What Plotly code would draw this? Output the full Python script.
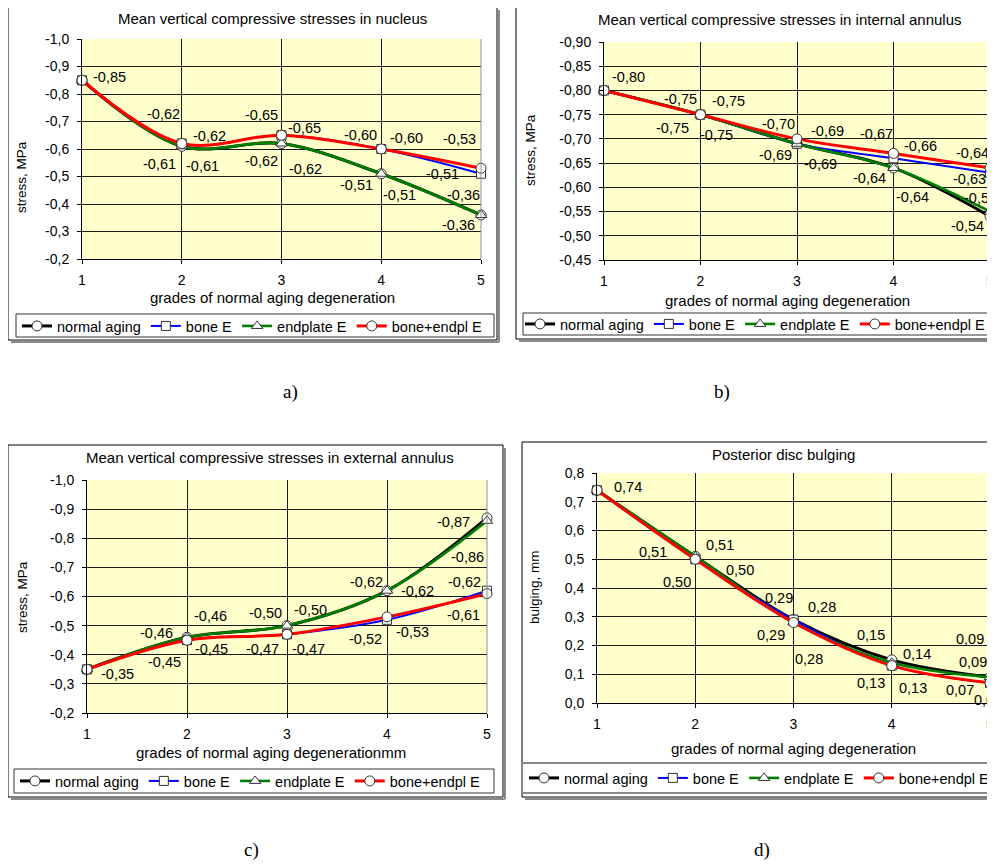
import plotly.graph_objects as go

# ---------------- data ----------------
grades = [1, 2, 3, 4, 5]
grade_labels = ["1", "2", "3", "4", "5"]
series_names = ["normal aging", "bone E", "endplate E", "bone+endpl E"]

# a) nucleus
nucleus_normal = [-0.85, -0.61, -0.62, -0.51, -0.36]
nucleus_bone = [-0.85, -0.62, -0.65, -0.60, -0.51]
nucleus_endplate = [-0.85, -0.61, -0.62, -0.51, -0.36]
nucleus_both = [-0.85, -0.62, -0.65, -0.60, -0.53]

# b) internal annulus
inner_normal = [-0.80, -0.75, -0.69, -0.64, -0.54]
inner_bone = [-0.80, -0.75, -0.69, -0.66, -0.63]
inner_endplate = [-0.80, -0.75, -0.69, -0.64, -0.55]
inner_both = [-0.80, -0.75, -0.70, -0.67, -0.64]

# c) external annulus
outer_normal = [-0.35, -0.46, -0.50, -0.62, -0.87]
outer_bone = [-0.35, -0.45, -0.47, -0.52, -0.62]
outer_endplate = [-0.35, -0.46, -0.50, -0.62, -0.86]
outer_both = [-0.35, -0.45, -0.47, -0.53, -0.61]

# d) posterior bulging
bulge_normal = [0.74, 0.51, 0.29, 0.15, 0.09]
bulge_bone = [0.74, 0.50, 0.29, 0.13, 0.07]
bulge_endplate = [0.74, 0.51, 0.28, 0.14, 0.09]
bulge_both = [0.74, 0.50, 0.28, 0.13, 0.07]

ticks_stress = [-1.0, -0.9, -0.8, -0.7, -0.6, -0.5, -0.4, -0.3, -0.2]
ticks_inner = [-0.90, -0.85, -0.80, -0.75, -0.70, -0.65, -0.60, -0.55, -0.50, -0.45]
ticks_bulge = [0.0, 0.1, 0.2, 0.3, 0.4, 0.5, 0.6, 0.7, 0.8]

titles = ["Mean vertical compressive stresses in nucleus",
          "Mean vertical compressive stresses in internal annulus",
          "Mean vertical compressive stresses in external annulus",
          "Posterior disc bulging"]
x_titles = ["grades of normal aging degeneration",
            "grades of normal aging degeneration",
            "grades of normal aging degenerationmm",
            "grades of normal aging degeneration"]
y_titles = ["stress, MPa", "stress, MPa", "stress, MPa", "bulging, mm"]
panel_letters = ["a)", "b)", "c)", "d)"]

# ---------------- styles / layout ----------------
PAGE_W, PAGE_H = 995, 864
OFF = 8                      # default body margin of the html page
W, H = PAGE_W - OFF, PAGE_H - OFF
FONT = "Liberation Sans"


def px(x):
    return (x - OFF) / W


def py(y):
    return 1 - (y - OFF) / H


def fmt(v, nd):
    return f"{v:.{nd}f}".replace(".", ",")


colors = ["#000000", "#0000FF", "#008000", "#FF0000"]
widths = [3, 2, 2.6, 3]
symbols = ["circle", "square", "triangle-up", "circle"]
msizes = [10, 9, 10, 10]

panels = [
    dict(data=[nucleus_normal, nucleus_bone, nucleus_endplate, nucleus_both],
         ticks=ticks_stress, nd=1, rng=[-0.2, -1.0],
         plot=(82, 481, 39, 259), frame=(8, 497, 7, 340),
         title=(272, 19), xt=(272, 298), yt=(22, 177),
         legend=(17, 326), lbox=(16, 494, 314, 337), letter=(290, 392)),
    dict(data=[inner_normal, inner_bone, inner_endplate, inner_both],
         ticks=ticks_inner, nd=2, rng=[-0.45, -0.90],
         plot=(604, 990, 42, 260), frame=(516, 1000, 7, 339),
         title=(780, 20), xt=(787, 300), yt=(530, 150),
         legend=(520, 324), lbox=(523, 1000, 313, 335), letter=(722, 392)),
    dict(data=[outer_normal, outer_bone, outer_endplate, outer_both],
         ticks=ticks_stress, nd=1, rng=[-0.2, -1.0],
         plot=(87, 487, 480, 713), frame=(8, 503, 445, 797),
         title=(270, 457), xt=(271, 752), yt=(22, 597),
         legend=(15, 781), lbox=(14, 494, 769, 793), letter=(251, 850)),
    dict(data=[bulge_normal, bulge_bone, bulge_endplate, bulge_both],
         ticks=ticks_bulge, nd=1, rng=[0.0, 0.8],
         plot=(597, 990, 473, 703), frame=(522, 1000, 442, 797),
         title=(783, 454), xt=(793, 748), yt=(534, 587),
         legend=(524, 778), lbox=(522, 1000, 763, 793), letter=(762, 850)),
]

# label offsets (pixels, dx right, dy down) per panel / series / point
label_offsets = [
    [[(27, -3), (-22, 18), (-20, 17), (-25, 11), (-23, 10)],
     [None, (28, -8), (23, -7), (25, -11), (-39, 0)],
     [None, (21, 20), (24, 25), (18, 21), (-18, -20)],
     [None, (-18, -30), (-20, -20), (-21, -14), (-22, -29)]],
    [[(24, -13), (-28, 13), (-22, 11), (-24, 10), (-23, 10)],
     [None, (28, -14), (30, -13), (27, -12), (-21, 6)],
     [None, (16, 20), (23, 20), (19, 29), (-10, -14)],
     [None, (-20, -16), (-19, -15), (-17, -19), (-18, -15)]],
    [[(30, 5), (-31, -4), (-22, -13), (-21, -9), (-34, 4)],
     [None, (-23, 22), (-25, 15), (-22, 19), (-23, -9)],
     [None, (23, -21), (23, -16), (30, 0), (-20, 36)],
     [None, (24, 9), (21, 15), (25, 15), (-24, 21)]],
    [[(31, -3), (-42, -4), (-15, -22), (-21, -25), (-20, -38)],
     [None, (-18, 23), (-23, 15), (-21, 17), (-30, 7)],
     [None, (25, -11), (28, -16), (25, -9), (-17, -15)],
     [None, (45, 11), (15, 36), (21, 22), (-2, 17)]],
]

fig = go.Figure()
layout = dict(width=W, height=H, autosize=False,
              margin=dict(l=0, r=0, t=0, b=0, pad=0, autoexpand=False),
              paper_bgcolor="white", plot_bgcolor="#FFFFCC",
              showlegend=True, font=dict(family=FONT, color="black"))
shapes = []
annotations = []


def paper_text(x, y, text, size, family=FONT, angle=0):
    return dict(x=px(x), y=py(y), xref="paper", yref="paper", text=text,
                showarrow=False, xanchor="center", yanchor="middle",
                textangle=angle, font=dict(family=family, size=size, color="black"))


for i, p in enumerate(panels):
    n = i + 1
    xk = "xaxis" if n == 1 else f"xaxis{n}"
    yk = "yaxis" if n == 1 else f"yaxis{n}"
    xr = "x" if n == 1 else f"x{n}"
    yr = "y" if n == 1 else f"y{n}"
    lk = "legend" if n == 1 else f"legend{n}"
    x0, x1, y0, y1 = p["plot"]

    layout[xk] = dict(domain=[px(x0), min(px(x1), 1)], range=[1, 5], anchor=yr,
                      tickvals=grades, ticktext=grade_labels,
                      showgrid=True, gridcolor="#1a1a1a", gridwidth=1,
                      showline=True, linecolor="#000", linewidth=1,
                      ticks="outside", ticklen=4, tickcolor="#000",
                      ticklabelstandoff=4, zeroline=False, automargin=False,
                      tickfont=dict(family=FONT, size=14, color="black"))
    layout[yk] = dict(domain=[py(y1), py(y0)], range=p["rng"], anchor=xr,
                      tickvals=p["ticks"],
                      ticktext=[fmt(t, p["nd"]) for t in p["ticks"]],
                      showgrid=True, gridcolor="#1a1a1a", gridwidth=1,
                      showline=True, linecolor="#000", linewidth=1,
                      ticks="outside", ticklen=4, tickcolor="#000",
                      ticklabelstandoff=5, zeroline=False, automargin=False,
                      tickfont=dict(family=FONT, size=14, color="black"))
    # right border of plot area in grey
    shapes.append(dict(type="line", xref="paper", yref="paper",
                       x0=px(x1), x1=px(x1), y0=py(y0), y1=py(y1),
                       line=dict(color="#909090", width=1), layer="above"))

    for s in range(4):
        fig.add_trace(go.Scatter(
            x=grades, y=p["data"][s], name=series_names[s],
            mode="lines+markers", xaxis=xr, yaxis=yr, legend=lk,
            line=dict(color=colors[s], width=widths[s], shape="spline", smoothing=1),
            marker=dict(symbol=symbols[s], size=msizes[s], color="white",
                        line=dict(color="#333333", width=1)),
            cliponaxis=False, hoverinfo="x+y"))
        for k, off in enumerate(label_offsets[i][s]):
            if off is None:
                continue
            annotations.append(dict(
                x=grades[k], y=p["data"][s][k], xref=xr, yref=yr,
                text=fmt(p["data"][s][k], 2), showarrow=False,
                xanchor="center", yanchor="middle",
                xshift=off[0], yshift=-off[1],
                font=dict(family=FONT, size=14.5, color="black")))

    lx, ly = p["legend"]
    layout[lk] = dict(x=px(lx), y=py(ly), xanchor="left", yanchor="middle",
                      orientation="h", bgcolor="rgba(0,0,0,0)", borderwidth=0,
                      itemwidth=30, tracegroupgap=0,
                      font=dict(family=FONT, size=14.5, color="black"))

    # frame + shadow
    fx0, fx1, fy0, fy1 = p["frame"]
    shapes.append(dict(type="line", xref="paper", yref="paper",
                       x0=px(fx1 + 2), x1=px(fx1 + 2), y0=py(fy0 + 3), y1=py(fy1 + 2),
                       line=dict(color="#8a8a8a", width=2), layer="below"))
    shapes.append(dict(type="line", xref="paper", yref="paper",
                       x0=px(fx0 + 3), x1=px(fx1 + 2), y0=py(fy1 + 2), y1=py(fy1 + 2),
                       line=dict(color="#8a8a8a", width=2), layer="below"))
    shapes.append(dict(type="rect", xref="paper", yref="paper",
                       x0=px(fx0), x1=px(fx1), y0=py(fy1), y1=py(fy0),
                       line=dict(color="#000", width=1), layer="below"))
    # legend box
    bx0, bx1, by0, by1 = p["lbox"]
    shapes.append(dict(type="rect", xref="paper", yref="paper",
                       x0=px(bx0), x1=px(bx1), y0=py(by1), y1=py(by0),
                       line=dict(color="#333" if i < 3 else "#8a8a8a",
                                 width=1 if i < 3 else 2), layer="below"))

    annotations.append(paper_text(*p["title"], titles[i], 15))
    annotations.append(paper_text(*p["xt"], x_titles[i], 15))
    annotations.append(paper_text(*p["yt"], y_titles[i], 13.5, angle=-90))
    annotations.append(paper_text(*p["letter"], panel_letters[i], 19,
                                  family="Liberation Serif"))

layout["shapes"] = shapes
layout["annotations"] = annotations
fig.update_layout(**layout)
fig.write_html("out.html")
